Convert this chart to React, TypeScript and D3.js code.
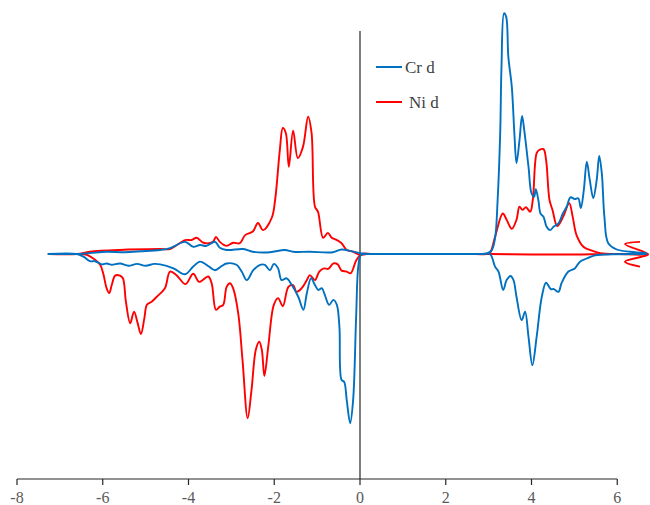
import React from "react";
import * as d3 from "d3";

// energy (eV) vs partial DOS
const crUp: [number, number][] = [
  [-7.28, 0], [-6.6, 0], [-6.3, 0.02], [-5.9, 0.05], [-5.5, 0.04], [-5.1, 0.06], [-4.66, 0.09],
  [-4.43, 0.13], [-4.08, 0.27], [-3.89, 0.16], [-3.73, 0.2], [-3.58, 0.18], [-3.38, 0.27],
  [-3.27, 0.14], [-3.11, 0.09], [-2.72, 0.11], [-2.5, 0.05], [-2.1, 0.04], [-1.75, 0.09],
  [-1.56, 0.05], [-1.17, 0.05], [-0.63, 0.04], [-0.43, 0.1], [-0.23, 0.07], [0, 0.02],
  [0.2, 0], [1, 0], [2, 0], [2.8, 0], [2.95, 0.01], [3.07, 0.08], [3.15, 0.35], [3.21, 1.2],
  [3.27, 2.69], [3.3, 4.16], [3.36, 5.35], [3.41, 5.27], [3.46, 4.38], [3.54, 3.72],
  [3.6, 2.69], [3.65, 2.02], [3.72, 2.53], [3.78, 3.07], [3.83, 2.76], [3.93, 1.94],
  [4.0, 1.35], [4.06, 1.27], [4.1, 1.44], [4.16, 1.2], [4.21, 0.9], [4.28, 0.83], [4.35, 0.61],
  [4.43, 0.53], [4.52, 0.61], [4.63, 0.68], [4.73, 0.9], [4.82, 1.05], [4.91, 1.26],
  [5.01, 1.22], [5.09, 1.24], [5.15, 1.02], [5.22, 1.42], [5.29, 2.05], [5.36, 1.64],
  [5.44, 1.24], [5.52, 1.64], [5.58, 2.18], [5.64, 1.79], [5.7, 0.83], [5.79, 0.24],
  [5.99, 0.1], [6.3, 0.05], [6.69, 0.02],
];

const crDown: [number, number][] = [
  [-7.28, 0], [-6.61, 0], [-6.45, -0.06], [-6.3, -0.16], [-6.18, -0.16], [-6.02, -0.23],
  [-5.91, -0.21], [-5.79, -0.24], [-5.6, -0.21], [-5.4, -0.26], [-5.2, -0.22], [-5.0, -0.26],
  [-4.8, -0.22], [-4.66, -0.23], [-4.35, -0.32], [-4.08, -0.45], [-3.89, -0.28],
  [-3.73, -0.17], [-3.58, -0.24], [-3.38, -0.36], [-3.23, -0.27], [-3.11, -0.21],
  [-2.88, -0.24], [-2.76, -0.39], [-2.64, -0.58], [-2.49, -0.36], [-2.33, -0.24],
  [-2.22, -0.24], [-2.1, -0.36], [-2.01, -0.22], [-1.91, -0.32], [-1.83, -0.58],
  [-1.71, -0.54], [-1.59, -0.69], [-1.44, -0.95], [-1.32, -1.24], [-1.24, -0.87],
  [-1.14, -0.54], [-1.05, -0.69], [-0.97, -0.8], [-0.89, -0.76], [-0.82, -0.91],
  [-0.72, -1.13], [-0.62, -1.02], [-0.54, -1.13], [-0.48, -1.62], [-0.43, -2.8],
  [-0.37, -2.84], [-0.31, -3.24], [-0.23, -3.76], [-0.16, -3.24], [-0.09, -1.39],
  [-0.04, -0.28], [0.02, -0.02], [0.12, 0], [0.4, 0], [1, 0], [2, 0], [2.8, 0], [3.03, 0],
  [3.15, -0.28], [3.23, -0.39], [3.34, -0.8], [3.42, -0.58], [3.51, -0.49], [3.58, -0.58],
  [3.65, -0.95], [3.77, -1.47], [3.85, -1.28], [3.93, -1.84], [4.02, -2.47], [4.12, -1.84],
  [4.24, -0.95], [4.34, -0.64], [4.45, -0.78], [4.52, -0.78], [4.63, -0.84], [4.7, -0.65],
  [4.86, -0.39], [5.01, -0.32], [5.13, -0.17], [5.29, -0.1], [5.44, -0.04], [5.75, -0.01],
  [6.69, 0],
];

const niUp: [number, number][] = [
  [-7.28, 0], [-6.6, 0], [-6.3, 0.05], [-5.6, 0.09], [-4.66, 0.11], [-4.43, 0.11],
  [-4.08, 0.31], [-3.93, 0.31], [-3.81, 0.36], [-3.65, 0.25], [-3.43, 0.27], [-3.36, 0.38],
  [-3.27, 0.27], [-3.11, 0.18], [-2.96, 0.25], [-2.8, 0.24], [-2.68, 0.42], [-2.5, 0.5],
  [-2.38, 0.69], [-2.26, 0.53], [-2.06, 0.8], [-1.98, 1.2], [-1.87, 2.31], [-1.8, 2.8],
  [-1.73, 2.69], [-1.66, 1.94], [-1.56, 2.74], [-1.45, 2.13], [-1.33, 2.38], [-1.21, 3.05],
  [-1.13, 2.69], [-1.05, 1.05], [-0.98, 0.94], [-0.86, 0.36], [-0.75, 0.47], [-0.66, 0.36],
  [-0.54, 0.31], [-0.43, 0.24], [-0.31, 0.09], [-0.16, 0.05], [0, -0.02], [0.15, 0],
  [0.5, 0], [1.5, 0], [2.5, 0], [2.95, 0], [3.03, 0.02], [3.15, 0.38], [3.33, 0.9],
  [3.42, 0.76], [3.54, 0.56], [3.65, 0.76], [3.72, 1.05], [3.79, 0.98], [3.87, 1.04],
  [3.97, 0.94], [4.03, 1.2], [4.12, 2.24], [4.18, 2.31], [4.28, 2.33], [4.34, 2.09],
  [4.42, 1.2], [4.49, 0.98], [4.6, 0.62], [4.74, 0.83], [4.88, 1.13], [4.96, 0.83],
  [5.05, 0.42], [5.21, 0.16], [5.36, 0.09], [5.6, 0.02], [6.06, 0], [6.72, 0], [6.18, 0.22],
  [6.53, 0.27],
];

const niDown: [number, number][] = [
  [-7.28, 0], [-6.61, 0], [-6.37, -0.02], [-6.18, -0.13], [-6.06, -0.24], [-5.99, -0.43],
  [-5.91, -0.76], [-5.85, -0.87], [-5.79, -0.69], [-5.71, -0.48], [-5.6, -0.48],
  [-5.53, -0.54], [-5.46, -1.06], [-5.36, -1.54], [-5.27, -1.28], [-5.19, -1.52],
  [-5.11, -1.78], [-5.03, -1.43], [-4.97, -1.13], [-4.86, -1.06], [-4.74, -0.95],
  [-4.55, -0.76], [-4.43, -0.39], [-4.28, -0.47], [-4.07, -0.67], [-3.89, -0.44],
  [-3.75, -0.62], [-3.54, -0.5], [-3.46, -0.65], [-3.36, -1.24], [-3.27, -1.17],
  [-3.19, -1.13], [-3.11, -0.73], [-3.03, -0.65], [-2.96, -0.76], [-2.84, -1.32],
  [-2.74, -2.36], [-2.62, -3.65], [-2.53, -3.02], [-2.43, -2.13], [-2.35, -1.95],
  [-2.29, -2.13], [-2.23, -2.71], [-2.14, -2.06], [-2.01, -1.13], [-1.91, -0.98],
  [-1.8, -1.16], [-1.67, -0.73], [-1.56, -0.69], [-1.48, -0.84], [-1.36, -0.76],
  [-1.24, -0.58], [-1.17, -0.47], [-1.05, -0.58], [-0.95, -0.39], [-0.84, -0.32],
  [-0.74, -0.33], [-0.62, -0.21], [-0.52, -0.23], [-0.43, -0.37], [-0.31, -0.39],
  [-0.22, -0.43], [-0.08, -0.13], [0.04, 0], [0.3, 0], [1, 0], [2, 0], [3, 0], [4, -0.01],
  [5, -0.01], [6, 0], [6.72, -0.02], [6.18, -0.17], [6.53, -0.28],
];

const xTicks = [-8, -6, -4, -2, 0, 2, 4, 6];

const series = [
  { name: "Ni d", color: "#FF0000", data: niUp },
  { name: "Ni d", color: "#FF0000", data: niDown },
  { name: "Cr d", color: "#0070C0", data: crUp },
  { name: "Cr d", color: "#0070C0", data: crDown },
];

const legendItems = [
  { name: "Cr d", color: "#0070C0" },
  { name: "Ni d", color: "#FF0000" },
];

const W = 650;
const H = 505;
const FONT = "'Liberation Serif', 'Times New Roman', serif";

export default function App() {
  const x = d3.scaleLinear().domain([-8, 6]).range([17, 617.25]);
  const y = d3.scaleLinear().domain([-5, 5]).range([479, 29]);

  const line = d3
    .line<[number, number]>()
    .x((d) => x(d[0]))
    .y((d) => y(d[1]))
    .curve(d3.curveCatmullRom.alpha(0.5));

  return (
    <svg
      width={W}
      height={H}
      style={{ position: "absolute", left: 0, top: 0, background: "#fff" }}
    >
      {/* axes */}
      <line x1={x(-8)} x2={x(6)} y1={y(-5)} y2={y(-5)} stroke="#262626" strokeWidth={1.2} />
      {xTicks.map((t) => (
        <g key={t}>
          <line x1={x(t)} x2={x(t)} y1={y(-5)} y2={y(-5) + 6} stroke="#262626" strokeWidth={1.2} />
          <text
            x={x(t)}
            y={503}
            textAnchor="middle"
            fontSize={16}
            fill="#595959"
            style={{ fontFamily: FONT }}
          >
            {t}
          </text>
        </g>
      ))}
      <line x1={x(0)} x2={x(0)} y1={y(-5)} y2={31} stroke="#262626" strokeWidth={1.2} />

      {/* curves */}
      {series.map((s, i) => (
        <path key={i} d={line(s.data) || ""} fill="none" stroke={s.color} strokeWidth={1.9} />
      ))}

      {/* legend */}
      {legendItems.map((l, i) => (
        <g key={l.name} transform={`translate(376,${67 + i * 35})`}>
          <line x1={0} x2={26} y1={0} y2={0} stroke={l.color} strokeWidth={2} />
          <text
            x={i === 0 ? 29 : 33}
            y={6}
            fontSize={17}
            fill="#404040"
            style={{ fontFamily: FONT }}
          >
            {l.name}
          </text>
        </g>
      ))}
    </svg>
  );
}
